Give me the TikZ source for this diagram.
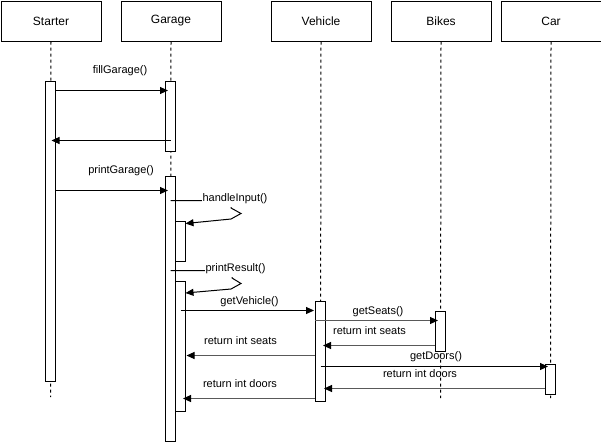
\documentclass[tikz,border=0pt]{standalone}
\usepackage{fontspec}
\setmainfont{Liberation Sans}
\usetikzlibrary{arrows.meta}
\begin{document}
\begin{tikzpicture}[x=1pt,y=-1pt,
  head/.style={draw,line width=1pt,minimum width=100pt,minimum height=40pt,
    inner sep=0pt,anchor=north west,font=\fontsize{12}{14}\selectfont},
  act/.style={draw,fill=white,line width=1pt,minimum width=10pt,inner sep=0pt,anchor=north},
  life/.style={line width=1pt,dash pattern=on 3pt off 3pt},
  msg/.style={line width=1pt,-{Triangle[length=8pt,width=7pt,color=black]}},
  ret/.style={msg,draw=black!65},
  lbl/.style={font=\fontsize{11}{13}\selectfont,inner sep=1pt},
  selflbl/.style={lbl,fill=white,inner xsep=1pt,inner ysep=3pt}
]
\useasboundingbox (0,0) rectangle (601,442);

% object heads
\node[head] (starter) at (0.5,0.5) {Starter};
\node[head] (garage)  at (120.5,0.5) {Garage};
\node[head] (vehicle) at (270.5,0.5) {Vehicle};
\node[head] (bikes)   at (390.5,0.5) {Bikes};
\node[head] (car)     at (500.5,0.5) {Car};

% lifeline ends
\coordinate (starterEnd) at (50.5,397);
\coordinate (garageEnd)  at (170.5,440);
\coordinate (vehicleEnd) at (320.5,400);
\coordinate (bikesEnd)   at (440.5,398);
\coordinate (carEnd)     at (550.5,398);

% lifelines
\draw[life] (starter.south) -- (starterEnd);
\draw[life] (garage.south)  -- (garageEnd);
\draw[life] (vehicle.south) -- (vehicleEnd);
\draw[life] (bikes.south)   -- (bikesEnd);
\draw[life] (car.south)     -- (carEnd);

% activation bars
\node[act,minimum height=300pt] (sA)  at (50.5,80.5)  {};
\node[act,minimum height=70pt]  (gA)  at (170.5,80.5) {};
\node[act,minimum height=265pt] (gB)  at (170.5,175.5) {};
\node[act,minimum height=40pt]  (gC)  at (180.5,220.5) {};
\node[act,minimum height=130pt] (gD)  at (180.5,280.5) {};
\node[act,minimum height=100pt] (vA)  at (320.5,300.5) {};
\node[act,minimum height=40pt]  (bA)  at (440.5,310.5) {};
\node[act,minimum height=30pt]  (cA)  at (550.5,363.5) {};

% Starter <-> Garage
\draw[msg,shorten >=-3pt] (sA.east |- 0,90.5) -- (gA.west |- 0,90.5);
\node[lbl] (m1) at (120,71) {fillGarage()};
\draw[msg] (gA.center |- 0,140.5) -- ([xshift=1pt]sA.center |- 0,140.5);
\draw[msg,shorten >=-3pt] (sA.east |- 0,190.5) -- (gB.west |- 0,190.5);
\node[lbl] (m2) at (121,171) {printGarage()};

% self calls on Garage
\draw[msg] (gB.center |- 0,200.5) -- (231,200.5) -- (231,208) -- (241,213.5)
  -- (231,219) -- ([xshift=-0.5pt]gC.east |- 0,223.5);
\node[selflbl] (m3) at (235,199) {handleInput()};
\draw[msg] (gB.center |- 0,270.5) -- (232,270.5) -- (232,278) -- (241,283.5)
  -- (231,289) -- ([xshift=-0.5pt]gD.east |- 0,293);
\node[selflbl] (m4) at (235.5,269) {printResult()};

% Garage -> Vehicle -> Bikes / Car
\draw[msg] (gD.center |- 0,310.5) -- ([xshift=-1pt]vA.west |- 0,310.5);
\node[lbl] (m5) at (249.5,302) {getVehicle()};
\draw[msg,draw=black!65,shorten >=-3pt] (vA.west |- 0,320.5) -- (bA.west |- 0,320.5);
\node[lbl] (m6) at (378,312) {getSeats()};
\draw[ret] (bA.west |- 0,345.5) -- ([xshift=-3pt]vA.east |- 0,345.5);
\node[lbl] (m7) at (369.5,331) {return int seats};
\draw[ret] (vA.west |- 0,355.5) -- ([xshift=0.5pt]gD.east |- 0,355.5);
\node[lbl] (m8) at (240.5,341) {return int seats};
\draw[msg,shorten >=-3pt] (vA.center |- 0,366.5) -- (cA.west |- 0,366.5);
\node[lbl] (m9) at (436,357) {getDoors()};
\draw[ret] (cA.west |- 0,388.5) -- ([xshift=-2pt]vA.east |- 0,388.5);
\node[lbl] (m10) at (420,374) {return int doors};
\draw[ret] (vA.west |- 0,398.5) -- ([xshift=-3pt]gD.east |- 0,398.5);
\node[lbl] (m11) at (240,384) {return int doors};
\end{tikzpicture}
\end{document}
